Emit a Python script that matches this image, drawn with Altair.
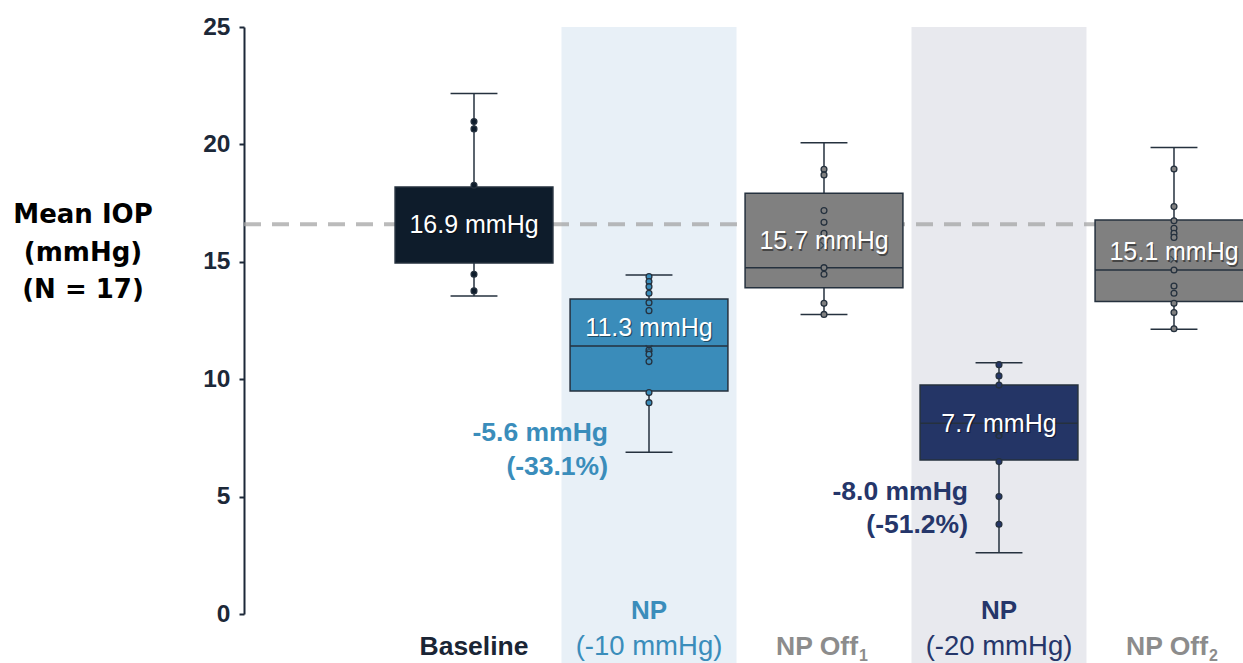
import altair as alt
import pandas as pd
import numpy as np

# ---- data ----
groups = ["Baseline", "NP (-10 mmHg)", "NP Off1", "NP (-20 mmHg)", "NP Off2"]
means = [16.9, 11.3, 15.7, 7.7, 15.1]
q1 = [14.95, 9.50, 13.90, 6.56, 13.31]
q3 = [18.19, 13.42, 17.92, 9.75, 16.78]
medians = [np.nan, 11.41, 14.75, 8.12, 14.65]
whisker_lo = [13.54, 6.89, 12.76, 2.61, 12.13]
whisker_hi = [22.17, 14.44, 20.07, 10.70, 19.87]
baseline_ref = 16.6

points = {
    "Baseline": [20.97, 20.66, 18.26, 14.47, 13.76],
    "NP (-10 mmHg)": [14.37, 14.16, 13.94, 13.66, 13.26, 12.92, 11.24, 11.06, 10.75, 9.43, 9.00],
    "NP Off1": [18.94, 18.70, 17.18, 16.68, 16.21, 14.75, 14.47, 13.23, 12.76],
    "NP (-20 mmHg)": [10.62, 10.14, 9.75, 7.90, 7.60, 6.49, 5.00, 3.82],
    "NP Off2": [18.95, 17.35, 16.75, 16.43, 16.21, 16.04, 14.65, 13.97, 13.66, 13.23, 12.84, 12.15],
}

change_mmhg = ["-5.6 mmHg", "-8.0 mmHg"]
change_pct = ["(-33.1%)", "(-51.2%)"]

# ---- styling ----
box_fill = ["#0e1c2b", "#3a8cba", "#808080", "#243566", "#808080"]
edge = "#25313e"
label_dy = [8, -21, -4, -9, -7]
band_groups = [1, 3]
band_fill = ["#e8f0f7", "#e8e9ee"]
ann_color = ["#3a8dbb", "#25366a"]
ann_dx = [-41, -31]
xlab_color = ["#1a2535", "#3a8dbb", "#8c8c8c", "#25366a", "#8c8c8c"]

W, H = 999, 587
BOX_HALF, CAP_HALF = 0.451, 0.134
FONT = "Liberation Sans"

df = pd.DataFrame({
    "group": groups, "pos": range(len(groups)), "mean": means, "q1": q1, "q3": q3,
    "median": medians, "wlo": whisker_lo, "whi": whisker_hi, "fill": box_fill,
    "dy": label_dy, "xcol": xlab_color,
})
df["lo"] = df["pos"] - BOX_HALF
df["hi"] = df["pos"] + BOX_HALF
df["clo"] = df["pos"] - CAP_HALF
df["chi"] = df["pos"] + CAP_HALF
df["label"] = df["mean"].map(lambda v: f"{v:.1f} mmHg")

pts = pd.DataFrame(
    [(groups.index(g), v, box_fill[groups.index(g)]) for g, vals in points.items() for v in vals],
    columns=["pos", "value", "fill"],
)

bands = pd.DataFrame({"pos": band_groups, "fill": band_fill})
bands["lo"] = bands["pos"] - 0.5
bands["hi"] = bands["pos"] + 0.5

ann = pd.DataFrame({
    "pos": [1, 3], "l1": change_mmhg, "l2": change_pct, "color": ann_color, "dx": ann_dx,
})

xs = alt.Scale(domain=[-1.3143, 4.3943], nice=False, zero=False)
ys = alt.Scale(domain=[0, 25], nice=False, zero=False)


def X(f):
    return alt.X(f, type="quantitative", scale=xs, axis=None)


def Y(f):
    return alt.Y(f, type="quantitative", scale=ys, title=None,
                 axis=alt.Axis(values=[0, 5, 10, 15, 20, 25], grid=False))


base = alt.Chart(df)

band_layer = alt.Chart(bands).mark_rect().encode(
    x=X("lo"), x2="hi", y=alt.value(0), y2=alt.value(H + 49),
    fill=alt.Fill("fill:N", scale=None),
)

ref_line = alt.Chart(pd.DataFrame({"v": [baseline_ref]})).mark_rule(
    color="#a4a4a4", opacity=0.75, strokeWidth=4, strokeDash=[17, 11]
).encode(y=Y("v"), x=alt.value(0), x2=alt.value(W))

whiskers = base.mark_rule(color=edge, strokeWidth=1.5).encode(x=X("pos"), y=Y("wlo"), y2="whi")
cap_lo = base.mark_rule(color=edge, strokeWidth=1.5).encode(x=X("clo"), x2="chi", y=Y("wlo"))
cap_hi = base.mark_rule(color=edge, strokeWidth=1.5).encode(x=X("clo"), x2="chi", y=Y("whi"))

boxes = base.mark_rect(stroke=edge, strokeWidth=1.5, clip=True).encode(
    x=X("lo"), x2="hi", y=Y("q1"), y2="q3", fill=alt.Fill("fill:N", scale=None),
)

median_lines = base.transform_filter("isValid(datum.median)").mark_rule(
    color=edge, strokeWidth=1.5, clip=True
).encode(x=X("lo"), x2="hi", y=Y("median"))

dots = alt.Chart(pts).mark_point(
    shape="circle", filled=True, size=34, stroke=edge, strokeWidth=1.3, opacity=1
).encode(x=X("pos"), y=Y("value"), fill=alt.Fill("fill:N", scale=None))

mean_marks = base.transform_filter("datum.pos > 0").mark_point(
    shape="M-1,-1L1,1M1,-1L-1,1", size=45, stroke=edge, strokeWidth=1.3, filled=False
).encode(x=X("pos"), y=Y("mean"))

label_layers = []
for i, row in df.iterrows():
    sub = alt.Chart(df.iloc[[i]])
    label_layers.append(sub.mark_text(
        font=FONT, fontSize=25, color="#000000", opacity=0.45,
        dx=1.2, dy=row["dy"] + 1.2, baseline="middle", align="center"
    ).encode(x=X("pos"), y=Y("mean"), text="label:N"))
    label_layers.append(sub.mark_text(
        font=FONT, fontSize=25, color="#ffffff", dy=row["dy"], baseline="middle", align="center"
    ).encode(x=X("pos"), y=Y("mean"), text="label:N"))

ann_layers = []
for i, row in ann.iterrows():
    sub = alt.Chart(ann.iloc[[i]])
    for field, ypix in (("l1", 406 if i == 0 else 465), ("l2", 440 if i == 0 else 498)):
        ann_layers.append(sub.mark_text(
            font=FONT, fontSize=26.5, fontWeight="bold", color=row["color"],
            align="right", baseline="middle", dx=row["dx"]
        ).encode(x=X("pos"), y=alt.value(ypix), text=f"{field}:N"))

# category labels under the plot
xlab = []
top_line = {1: ("NP", "(-10 mmHg)"), 3: ("NP", "(-20 mmHg)")}
for i, g in enumerate(groups):
    sub = alt.Chart(df.iloc[[i]])
    col = xlab_color[i]
    if i in top_line:
        a, b = top_line[i]
        xlab.append(sub.mark_text(font=FONT, fontSize=26, fontWeight="bold", color=col,
                                  baseline="middle").encode(x=X("pos"), y=alt.value(584), text=alt.value(a)))
        xlab.append(sub.mark_text(font=FONT, fontSize=27.5, color=col,
                                  baseline="middle").encode(x=X("pos"), y=alt.value(620), text=alt.value(b)))
    elif i == 0:
        xlab.append(sub.mark_text(font=FONT, fontSize=26.5, fontWeight="bold", color=col,
                                  baseline="middle").encode(x=X("pos"), y=alt.value(620), text=alt.value("Baseline")))
    else:
        sub_n = "1" if i == 2 else "2"
        xlab.append(sub.mark_text(font=FONT, fontSize=26.5, fontWeight="bold", color=col,
                                  baseline="middle", dx=-7).encode(x=X("pos"), y=alt.value(620), text=alt.value("NP Off")))
        xlab.append(sub.mark_text(font=FONT, fontSize=16, fontWeight="bold", color=col,
                                  baseline="middle", align="left", dx=35, dy=9).encode(
            x=X("pos"), y=alt.value(620), text=alt.value(sub_n)))

title_lines = ["Mean IOP", "(mmHg)", "(N = 17)"]
ytitle = [
    alt.Chart(df.iloc[[0]]).mark_text(
        font="DejaVu Sans", fontSize=26, fontWeight="bold", color="#000000",
        align="center", baseline="middle"
    ).encode(x=alt.value(-161), y=alt.value(188 + 37.5 * k), text=alt.value(t))
    for k, t in enumerate(title_lines)
]

chart = alt.layer(
    band_layer, ref_line, whiskers, cap_lo, cap_hi, boxes, median_lines, dots, mean_marks,
    *label_layers, *ann_layers, *xlab, *ytitle,
).properties(
    width=W, height=H,
    autosize=alt.AutoSizeParams(type="none"),
    padding={"left": 244, "top": 27, "right": 0, "bottom": 49},
    background="#ffffff",
).configure_view(
    stroke=None
).configure_axisY(
    domainColor="#1c2838", domainWidth=2, tickColor="#1c2838", tickWidth=2, tickSize=5,
    labelFont=FONT, labelFontSize=24.5, labelFontWeight="bold", labelColor="#1c2838",
    labelPadding=9,
)

chart.save("out.html", embed_options={"renderer": "svg", "actions": False})
